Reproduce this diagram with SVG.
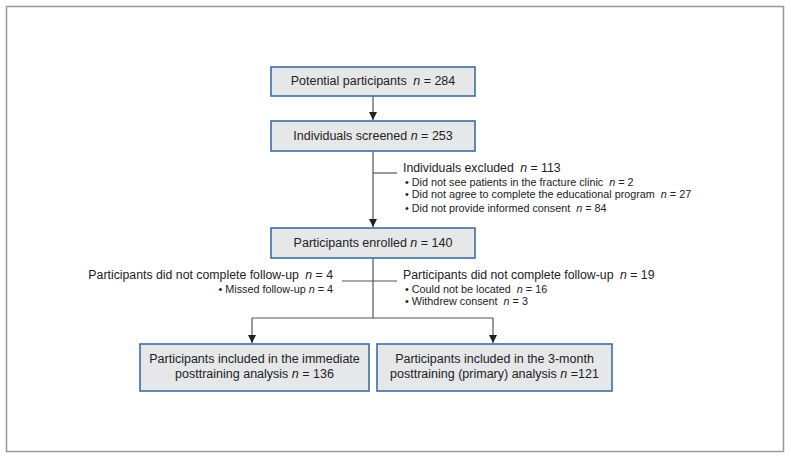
<svg xmlns="http://www.w3.org/2000/svg" width="791" height="459" viewBox="0 0 791 459">
<defs>
<marker id="ah" viewBox="0 0 10 10" refX="10" refY="5" markerWidth="8" markerHeight="8" markerUnits="userSpaceOnUse" orient="auto">
<path d="M0,0 L10,5 L0,10 z" fill="#222"/>
</marker>
<style>
.box{fill:#e6e7e9;stroke:#3d6ea3;stroke-width:1.6}
.t{font-family:"Liberation Sans",Arial,sans-serif;font-size:12.5px;fill:#222}
.o{font-family:"Liberation Sans",Arial,sans-serif;font-size:12.3px;fill:#222}
.s{font-family:"Liberation Sans",Arial,sans-serif;font-size:10.8px;fill:#222}
.c{fill:none;stroke:#555;stroke-width:1.2}
.i{font-style:italic}
</style>
</defs>
<rect width="791" height="459" fill="#fff"/>
<rect x="6.5" y="6.5" width="777" height="445" fill="none" stroke="#999" stroke-width="1.5"/>
<g id="connectors">
<path class="c" d="M373,96 V120" marker-end="url(#ah)"/>
<path class="c" d="M373,151 V227" marker-end="url(#ah)"/>
<path class="c" d="M373,173 H397"/>
<path class="c" d="M373,258 V318"/>
<path class="c" d="M342,281 H397"/>
<path class="c" d="M252,318 H493"/>
<path class="c" d="M252,318 V343" marker-end="url(#ah)"/>
<path class="c" d="M493,318 V343" marker-end="url(#ah)"/>
</g>
<g id="n1">
<rect class="box" x="271" y="67" width="204" height="29"/>
<text class="t" x="373" y="85" text-anchor="middle">Potential participants <tspan class="i" dx="3">n</tspan> = 284</text>
</g>
<g id="n2">
<rect class="box" x="271" y="121" width="204" height="30"/>
<text class="t" x="373" y="140" text-anchor="middle">Individuals screened <tspan class="i">n</tspan> = 253</text>
</g>
<g id="excl">
<text class="o" x="403" y="171.5">Individuals excluded <tspan class="i" dx="3">n</tspan> = 113</text>
<text class="s" x="405" y="186">• Did not see patients in the fracture clinic <tspan class="i" dx="3">n</tspan> = 2</text>
<text class="s" x="405" y="198">• Did not agree to complete the educational program <tspan class="i" dx="3">n</tspan> = 27</text>
<text class="s" x="405" y="212">• Did not provide informed consent <tspan class="i" dx="3">n</tspan> = 84</text>
</g>
<g id="n3">
<rect class="box" x="271" y="228" width="204" height="30"/>
<text class="t" x="373" y="247" text-anchor="middle">Participants enrolled <tspan class="i">n</tspan> = 140</text>
</g>
<g id="lossL">
<text class="o" x="333" y="278.5" text-anchor="end">Participants did not complete follow-up <tspan class="i" dx="3">n</tspan> = 4</text>
<text class="s" x="333" y="293" text-anchor="end">• Missed follow-up <tspan class="i">n</tspan> = 4</text>
</g>
<g id="lossR">
<text class="o" x="403" y="278.5">Participants did not complete follow-up <tspan class="i" dx="3">n</tspan> = 19</text>
<text class="s" x="405" y="293">• Could not be located <tspan class="i" dx="3">n</tspan> = 16</text>
<text class="s" x="405" y="305">• Withdrew consent <tspan class="i" dx="3">n</tspan> = 3</text>
</g>
<g id="n4">
<rect class="box" x="140" y="344" width="229" height="47"/>
<text class="t" x="254.5" y="362.5" text-anchor="middle">Participants included in the immediate</text>
<text class="t" x="254.5" y="377.5" text-anchor="middle">posttraining analysis <tspan class="i">n</tspan> = 136</text>
</g>
<g id="n5">
<rect class="box" x="377" y="344" width="235" height="47"/>
<text class="t" x="494.5" y="362.5" text-anchor="middle">Participants included in the 3-month</text>
<text class="t" x="494.5" y="377.5" text-anchor="middle">posttraining (primary) analysis <tspan class="i">n</tspan> =121</text>
</g>
</svg>
